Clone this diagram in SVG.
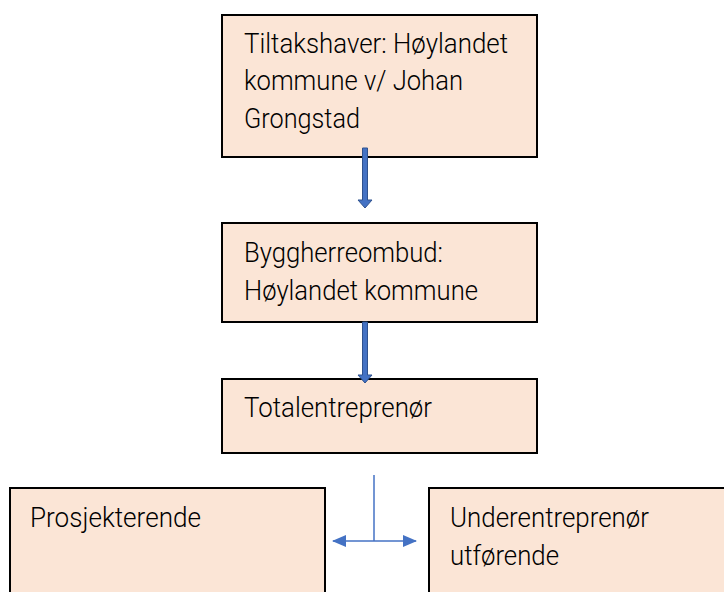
<svg xmlns="http://www.w3.org/2000/svg" width="724" height="592" viewBox="0 0 724 592">
<style>
.box{fill:#FBE5D6;stroke:#000;stroke-width:2}
.t{font-family:Roboto,"Liberation Sans",sans-serif;font-weight:300;font-size:28px;fill:#000}
.blk{fill:#4472C4;stroke:#2F528F;stroke-width:1}
.ln{stroke:#4472C4;stroke-width:1.5;fill:none}
</style>
<defs>
<marker id="ah" viewBox="0 0 14 12" refX="13" refY="6" markerWidth="14" markerHeight="12" orient="auto-start-reverse" markerUnits="userSpaceOnUse">
<path d="M0,0 L14,6 L0,12 z" fill="#4472C4"/>
</marker>
</defs>
<g id="n1">
<rect class="box" x="222" y="15" width="315" height="142"/>
<text class="t" x="244" y="53" textLength="264" lengthAdjust="spacingAndGlyphs">Tiltakshaver: Høylandet</text>
<text class="t" x="244" y="90" textLength="219" lengthAdjust="spacingAndGlyphs">kommune v/ Johan</text>
<text class="t" x="244" y="128" textLength="116" lengthAdjust="spacingAndGlyphs">Grongstad</text>
</g>
<g id="n2">
<rect class="box" x="222" y="223" width="315" height="99"/>
<text class="t" x="244" y="262" textLength="199" lengthAdjust="spacingAndGlyphs">Byggherreombud:</text>
<text class="t" x="244" y="300" textLength="234" lengthAdjust="spacingAndGlyphs">Høylandet kommune</text>
</g>
<g id="n3">
<rect class="box" x="222" y="379" width="315" height="74"/>
<text class="t" x="244" y="417" textLength="188" lengthAdjust="spacingAndGlyphs">Totalentreprenør</text>
</g>
<g id="n4">
<rect class="box" x="10" y="488" width="315" height="110"/>
<text class="t" x="30" y="527" textLength="171" lengthAdjust="spacingAndGlyphs">Prosjekterende</text>
</g>
<g id="n5">
<rect class="box" x="429" y="488" width="310" height="110"/>
<text class="t" x="450" y="527" textLength="199" lengthAdjust="spacingAndGlyphs">Underentreprenør</text>
<text class="t" x="450" y="565" textLength="109" lengthAdjust="spacingAndGlyphs">utførende</text>
</g>
<g id="connectors">
<path class="blk" d="M362.5,148 H367.5 V200 H372 L365,208 L358,200 H362.5 Z"/>
<path class="blk" d="M362.5,322 H367.5 V375 H372 L365,383 L358,375 H362.5 Z"/>
<line class="ln" x1="374" y1="475" x2="374" y2="541"/>
<line class="ln" x1="333" y1="541" x2="416" y2="541" marker-start="url(#ah)" marker-end="url(#ah)"/>
</g>
</svg>
